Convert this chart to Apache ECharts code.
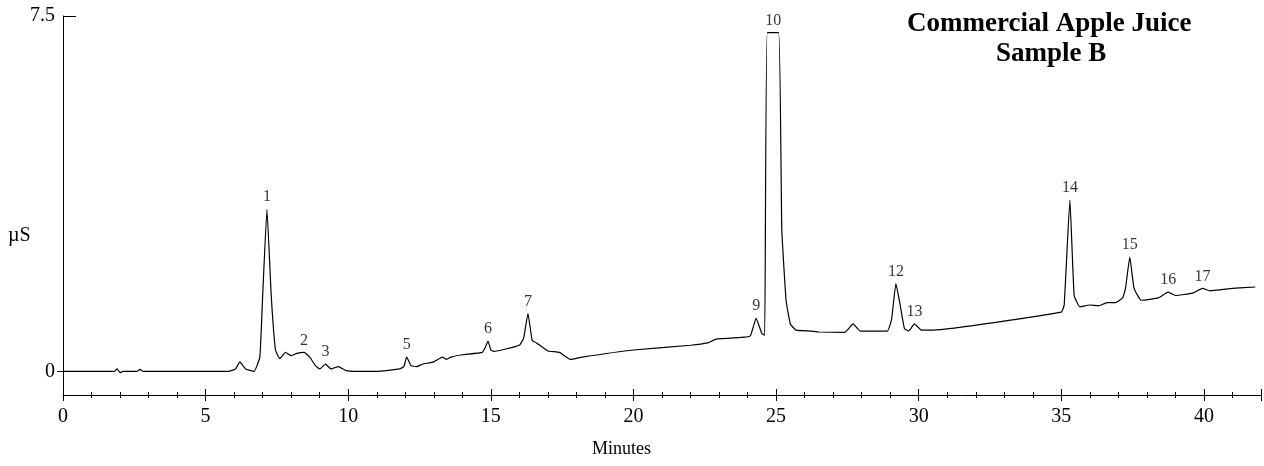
<!DOCTYPE html>
<html>
<head>
<meta charset="utf-8">
<script src="https://cdn.jsdelivr.net/npm/echarts@6/dist/echarts.min.js"></script>
<style>
  html, body { margin: 0; padding: 0; background: #fff; }
  #container { width: 1264px; height: 466px; }
</style>
</head>
<body>
<div id="container"></div>
<script>
// retention time (min) and conductivity (µS)
var times = [0, 1.8, 1.9, 2.0, 2.1, 2.6, 2.7, 2.8, 5.8, 6.05, 6.2, 6.4, 6.7, 6.9, 7.0, 7.15, 7.3, 7.45, 7.6, 7.8, 8.0, 8.2, 8.45, 8.65, 8.85, 9.0, 9.2, 9.4, 9.65, 9.9, 10.2, 11.0, 11.8, 11.95, 12.05, 12.2, 12.4, 12.6, 13.0, 13.3, 13.45, 13.6, 14.0, 14.7, 14.8, 14.9, 15.0, 15.1, 16.0, 16.15, 16.3, 16.45, 16.6, 17.0, 17.4, 17.8, 18.2, 20.0, 22.0, 22.6, 22.9, 23.9, 24.1, 24.3, 24.5, 24.6, 24.69, 25.09, 25.2, 25.35, 25.5, 25.7, 26.2, 26.5, 27.4, 27.7, 27.95, 28.9, 29.05, 29.2, 29.35, 29.5, 29.65, 29.85, 30.1, 30.5, 35.0, 35.1, 35.3, 35.45, 35.65, 36.0, 36.3, 36.6, 36.9, 37.15, 37.25, 37.4, 37.55, 37.8, 38.4, 38.75, 39.0, 39.6, 39.95, 40.2, 41.0, 41.8];
var values = [0, 0, 0.05, -0.03, 0, 0, 0.04, 0, 0, 0.05, 0.2, 0.05, 0, 0.3, 1.6, 3.42, 1.6, 0.45, 0.27, 0.4, 0.33, 0.38, 0.4, 0.3, 0.12, 0.05, 0.15, 0.05, 0.1, 0.02, 0, 0, 0.05, 0.1, 0.3, 0.12, 0.1, 0.15, 0.2, 0.3, 0.25, 0.3, 0.35, 0.4, 0.5, 0.64, 0.45, 0.42, 0.55, 0.7, 1.22, 0.65, 0.6, 0.43, 0.4, 0.25, 0.3, 0.45, 0.55, 0.6, 0.68, 0.72, 0.75, 1.12, 0.8, 0.76, 7.15, 7.15, 3.0, 1.5, 1.0, 0.87, 0.85, 0.83, 0.82, 1.0, 0.85, 0.85, 1.1, 1.85, 1.4, 0.9, 0.85, 1.0, 0.87, 0.87, 1.25, 1.4, 3.62, 1.6, 1.36, 1.4, 1.38, 1.45, 1.45, 1.55, 1.75, 2.41, 1.75, 1.5, 1.55, 1.67, 1.6, 1.65, 1.75, 1.7, 1.75, 1.78];

// peak annotations
var peakNames = ['1', '2', '3', '5', '6', '7', '9', '10', '12', '13', '14', '15', '16', '17'];
var peakTimes = [7.15, 8.45, 9.2, 12.05, 14.9, 16.3, 24.3, 24.9, 29.2, 29.85, 35.3, 37.4, 38.75, 39.95];
var peakHeights = [3.42, 0.4, 0.15, 0.3, 0.64, 1.22, 1.12, 7.15, 1.85, 1.0, 3.62, 2.41, 1.67, 1.75];

var yTicks = [0, 7.5];

var serif = 'Liberation Serif';
var dom = document.getElementById('container');
var myChart = echarts.init(dom, null, { renderer: 'canvas' });

var traceData = times.map(function (t, i) { return [t, values[i]]; });
var peakData = peakTimes.map(function (t, i) { return { value: [t, peakHeights[i]], name: peakNames[i] }; });

var option = {
  animation: false,
  grid: { left: 63, right: 3, top: 16, bottom: 71 },
  xAxis: [{
    type: 'value', min: 0, max: 42, interval: 5,
    axisLine: { onZero: false, lineStyle: { color: '#000', width: 1 } },
    axisTick: { length: 6, lineStyle: { color: '#000' } },
    minorTick: { show: true, splitNumber: 5, length: 3, lineStyle: { color: '#000' } },
    axisLabel: { color: '#000', fontFamily: serif, fontSize: 20, margin: 12,
      customValues: [0, 5, 10, 15, 20, 25, 30, 35, 40] },
    splitLine: { show: false }
  }, {
    type: 'value', min: 0, max: 42, interval: 5, position: 'bottom',
    axisLine: { show: false, onZero: false },
    axisTick: { inside: true, length: 6, lineStyle: { color: '#000' } },
    minorTick: { show: true, splitNumber: 5, length: 3, lineStyle: { color: '#000' } },
    axisLabel: { show: false },
    splitLine: { show: false }
  }],
  yAxis: [{
    type: 'value', min: -0.5, max: 7.5,
    axisLine: { show: true, lineStyle: { color: '#000', width: 1 } },
    axisTick: { show: true, length: 6, customValues: [0], lineStyle: { color: '#000' } },
    axisLabel: { color: '#000', fontFamily: serif, fontSize: 20, margin: 8, customValues: yTicks,
      formatter: function (v) { return v === 0 ? '0' : String(v); } },
    splitLine: { show: false }
  }, {
    type: 'value', min: -0.5, max: 7.5, position: 'left',
    axisLine: { show: false },
    axisTick: { show: true, inside: true, length: 13, customValues: [7.5], lineStyle: { color: '#000' } },
    axisLabel: { show: false },
    splitLine: { show: false }
  }],
  series: [{
    type: 'line',
    data: traceData,
    showSymbol: false,
    smooth: 0.12,
    lineStyle: { color: '#000', width: 1.2 },
    z: 3
  }, {
    type: 'scatter',
    data: peakData,
    symbolSize: 0,
    label: {
      show: true, position: 'top', distance: 4,
      formatter: '{b}', color: '#000', fontFamily: serif, fontSize: 16
    },
    z: 4
  }],
  graphic: [
    { type: 'text', left: 8, top: 226, style: { text: 'µS', font: '20px "Liberation Serif"', fill: '#000' } },
    { type: 'text', left: 592, top: 440, style: { text: 'Minutes', font: '18px "Liberation Serif"', fill: '#000' } },
    { type: 'text', left: 907, top: 11, style: { text: 'Commercial Apple Juice', font: 'bold 27px "Liberation Serif"', fill: '#000' } },
    { type: 'text', left: 996, top: 41, style: { text: 'Sample B', font: 'bold 27px "Liberation Serif"', fill: '#000' } }
  ]
};

myChart.setOption(option);
window.addEventListener('resize', function () { myChart.resize(); });
</script>
</body>
</html>
